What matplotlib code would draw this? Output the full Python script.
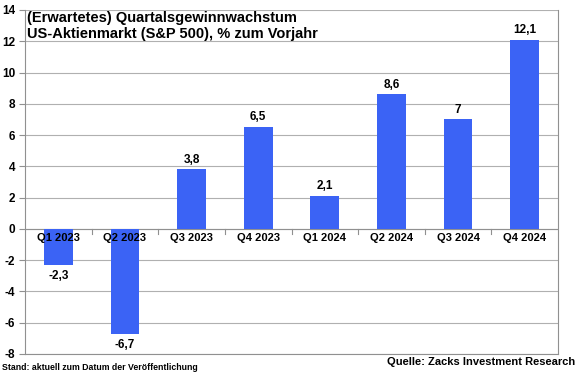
import numpy as np
import matplotlib.pyplot as plt

plt.rcParams['font.family'] = ['Liberation Sans', 'DejaVu Sans']

# quarterly earnings growth, % y/y
quarters = ["Q1 2023", "Q2 2023", "Q3 2023", "Q4 2023",
            "Q1 2024", "Q2 2024", "Q3 2024", "Q4 2024"]
growth = [-2.3, -6.7, 3.8, 6.5, 2.1, 8.6, 7.0, 12.1]
value_labels = ["-2,3", "-6,7", "3,8", "6,5", "2,1", "8,6", "7", "12,1"]
yticks = [-8, -6, -4, -2, 0, 2, 4, 6, 8, 10, 12, 14]

fig = plt.figure(figsize=(5.8, 3.75), dpi=100)
ax = fig.add_axes([25 / 580, 1 - 354 / 375, 533 / 580, 344 / 375])

x = np.arange(len(quarters))
ax.bar(x, growth, width=0.43, color="#3b63f5", zorder=3)

ax.set_xlim(-0.5, len(quarters) - 0.5)
ax.set_ylim(-8, 14)
ax.set_yticks(yticks)
ax.set_yticklabels([str(t) for t in yticks], fontsize=8.5, fontweight="bold")
ax.yaxis.grid(True, color="#b0b0b0", linewidth=0.8, zorder=0)
ax.tick_params(axis="y", length=4, color="#909090", pad=3)

# category labels just below the zero line
ax.set_xticks([])
for xi, q in zip(x, quarters):
    ax.text(xi, -0.25, q, ha="center", va="top", fontsize=8, fontweight="bold", zorder=4)
# small tick marks at category boundaries on the zero line
for b in np.arange(0.5, len(quarters) - 0.5, 1.0):
    ax.plot([b, b], [0, -0.3], color="#909090", linewidth=0.8, zorder=2)
ax.axhline(0, color="#909090", linewidth=0.8, zorder=2)

# value labels
for xi, v, lab in zip(x, growth, value_labels):
    if v >= 0:
        ax.text(xi, v + 0.25, lab, ha="center", va="bottom", fontsize=8.5, fontweight="bold")
    else:
        ax.text(xi, v - 0.35, lab, ha="center", va="top", fontsize=8.5, fontweight="bold")

ax.spines["top"].set_visible(False)
for side in ["left", "right", "bottom"]:
    ax.spines[side].set_color("#909090")
    ax.spines[side].set_linewidth(0.8)

fig.text(27 / 580, 1 - 11 / 375, "(Erwartetes) Quartalsgewinnwachstum\nUS-Aktienmarkt (S&P 500), % zum Vorjahr",
         ha="left", va="top", fontsize=10.5, fontweight="bold", linespacing=1.2)

fig.text(2 / 580, 1 - 368 / 375, "Stand: aktuell zum Datum der Veröffentlichung",
         ha="left", va="center", fontsize=6.3, fontweight="bold")
fig.text(575 / 580, 1 - 362 / 375, "Quelle: Zacks Investment Research",
         ha="right", va="center", fontsize=8, fontweight="bold")

fig.savefig("out.png", dpi=100)
